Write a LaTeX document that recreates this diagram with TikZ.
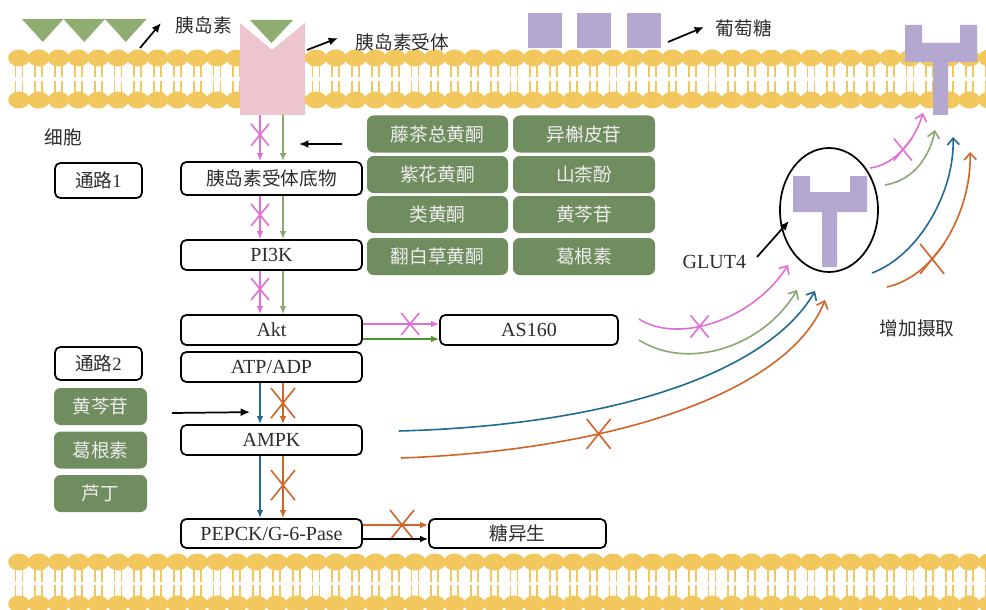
\documentclass[tikz,border=0pt]{standalone}
\usepackage{fontspec}
\setmainfont{Liberation Serif}
\newfontfamily\cjk{Noto Sans CJK SC}
\usetikzlibrary{arrows.meta,calc,shapes.geometric}

\definecolor{lipid}{RGB}{242,200,94}
\definecolor{recpink}{RGB}{236,197,206}
\definecolor{insgreen}{RGB}{143,173,112}
\definecolor{glupurple}{RGB}{181,168,208}
\definecolor{boxgreen}{RGB}{112,141,95}
\definecolor{pinkline}{RGB}{222,112,214}
\definecolor{sageline}{RGB}{139,166,113}
\definecolor{darkgreen}{RGB}{76,150,44}
\definecolor{blueline}{RGB}{31,107,145}
\definecolor{orangeline}{RGB}{210,100,40}
\definecolor{txt}{RGB}{45,45,45}

\tikzset{
  xcross/.pic={\draw[line width=1.2pt, arrows=-] (-9,-11) -- (9,11) (-9,11) -- (9,-11);},
  xcrossbig/.pic={\draw[line width=1.2pt, arrows=-] (-12,-15) -- (12,15) (-12,15) -- (12,-15);},
}

\begin{document}
\begin{tikzpicture}[x=0.75pt,y=-0.75pt,
  every node/.style={text=txt, font=\fontsize{14}{16}\selectfont},
  latin/.style={font=\fontsize{15}{17}\selectfont},
  pathbox/.style={draw=black, line width=1.3pt, rounded corners=4pt, fill=white,
    inner sep=0pt, minimum width=135.75pt, minimum height=22.5pt},
  gbox/.style={fill=boxgreen, rounded corners=5pt, inner sep=0pt, text=white!93!black,
    minimum height=27.75pt},
  flow/.style={line width=1.2pt, -{Latex[length=6pt,width=5pt]}},
  curvearrow/.style={line width=1.2pt, -{Straight Barb[length=5pt,width=9pt]}},
  pointer/.style={line width=1.3pt, black, -{Latex[length=7pt,width=6pt]}},
]
\useasboundingbox (0,0) rectangle (986,610);
\fill[white] (0,0) rectangle (986,610);

% ---------- lipid bilayers ----------
\foreach \yy in {58,562}{
  \foreach \i in {0,...,49}{
    \pgfmathsetmacro\xx{19+19.8*\i}
    \draw[lipid, line width=1.4pt]
      (\xx-3.5,\yy) -- (\xx-3.5,\yy+19.5) (\xx+3.5,\yy) -- (\xx+3.5,\yy+19.5)
      (\xx-3.5,\yy+23) -- (\xx-3.5,\yy+42) (\xx+3.5,\yy+23) -- (\xx+3.5,\yy+42);
    \fill[lipid] (\xx,\yy) ellipse [x radius=10.8, y radius=8.5];
    \fill[lipid] (\xx,\yy+42) ellipse [x radius=10.8, y radius=8.5];
  }
}

% ---------- insulin ----------
\foreach \a in {22,63.5,105}{
  \fill[insgreen] (\a,19) -- (\a+41.5,19) -- (\a+20.75,42) -- cycle;
}
\node[anchor=west] (lblIns) at (171,25) {\cjk 胰岛素};
\coordinate (insTail) at (140,48);
\coordinate (insTip) at (161,23);
\draw[pointer] (insTail) -- (insTip);

% ---------- insulin receptor ----------
\fill[recpink] (240,23) -- (272,50) -- (305,23) -- (305,115) -- (240,115) -- cycle;
\fill[insgreen] (250,20) -- (293,20) -- (271.5,43) -- cycle;
\coordinate (rec) at (271.5,115);
\node[anchor=west] (lblRec) at (351,42) {\cjk 胰岛素受体};
\coordinate (recTail) at (307,50);
\coordinate (recTip) at (338,38);
\draw[pointer] (recTail) -- (recTip);

% ---------- glucose ----------
\foreach \a in {528,577,627}{
  \fill[glupurple] (\a,13) rectangle ++(34,35);
}
\node[anchor=west] (lblGlc) at (711,28) {\cjk 葡萄糖};
\coordinate (glcTail) at (668,42);
\coordinate (glcTip) at (704,27);
\draw[pointer] (glcTail) -- (glcTip);

% ---------- GLUT4 in the membrane ----------
\fill[glupurple] (905,25) -- (922,25) -- (922,43) -- (960,43) -- (960,25) -- (977,25)
  -- (977,62) -- (948,62) -- (948,115) -- (933,115) -- (933,62) -- (905,62) -- cycle;
\coordinate (memGlut) at (940,115);

% ---------- cell labels ----------
\node (lblCell) at (63,137) {\cjk 细胞};
\node[pathbox, minimum width=65.25pt, minimum height=26.25pt] (path1) at (98.5,180.5) {{\cjk 通路}1};
\node[pathbox, minimum width=65.25pt, minimum height=24.75pt] (path2) at (98.5,363.5) {{\cjk 通路}2};
\node[gbox, minimum width=69.75pt] (lg1) at (100.5,406.5) {\cjk 黄芩苷};
\node[gbox, minimum width=69.75pt] (lg2) at (100.5,450) {\cjk 葛根素};
\node[gbox, minimum width=69.75pt] (lg3) at (100.5,493.5) {\cjk 芦丁};

% ---------- flavonoid grid ----------
\node[gbox, minimum width=105.75pt] (g11) at (437.5,134) {\cjk 藤茶总黄酮};
\node[gbox, minimum width=106.5pt]  (g12) at (584,134)   {\cjk 异槲皮苷};
\node[gbox, minimum width=105.75pt] (g21) at (437.5,174.5) {\cjk 紫花黄酮};
\node[gbox, minimum width=106.5pt]  (g22) at (584,174.5)   {\cjk 山柰酚};
\node[gbox, minimum width=105.75pt] (g31) at (437.5,214.5) {\cjk 类黄酮};
\node[gbox, minimum width=106.5pt]  (g32) at (584,214.5)   {\cjk 黄芩苷};
\node[gbox, minimum width=105.75pt] (g41) at (437.5,256.5) {\cjk 翻白草黄酮};
\node[gbox, minimum width=106.5pt]  (g42) at (584,256.5)   {\cjk 葛根素};

% ---------- pathway boxes ----------
\node[pathbox, minimum height=24.75pt] (irs) at (271.5,178.5) {\cjk 胰岛素受体底物};
\node[pathbox, latin] (pi3k) at (271.5,255) {PI3K};
\node[pathbox, latin] (akt)  at (271.5,330) {Akt};
\node[pathbox, latin] (atp)  at (271.5,367) {ATP/ADP};
\node[pathbox, latin] (ampk) at (271.5,440) {AMPK};
\node[pathbox, latin, minimum height=21.75pt] (pepck) at (271.5,533.5) {PEPCK/G-6-Pase};
\node[pathbox, latin, minimum width=133.5pt] (as160) at (529,330) {AS160};
\node[pathbox, minimum width=132.75pt, minimum height=21.75pt] (gng) at (517.5,533.5) {\cjk 糖异生};

% ---------- pathway 1 arrows ----------
\draw[flow, pinkline] ($(rec)+(-11.5,0)$) -- pic[pos=0.43, color=pinkline]{xcross} ($(irs.north)+(-11.5,0)$);
\draw[flow, sageline] ($(rec)+(11.5,0)$) -- ($(irs.north)+(11.5,0)$);
\draw[flow, pinkline] ($(irs.south)+(-11.5,0)$) -- pic[pos=0.44, color=pinkline]{xcross} ($(pi3k.north)+(-11.5,0)$);
\draw[flow, sageline] ($(irs.south)+(11.5,0)$) -- ($(pi3k.north)+(11.5,0)$);
\draw[flow, pinkline] ($(pi3k.south)+(-11.5,0)$) -- pic[pos=0.42, color=pinkline]{xcross} ($(akt.north)+(-11.5,0)$);
\draw[flow, sageline] ($(pi3k.south)+(11.5,0)$) -- ($(akt.north)+(11.5,0)$);
\draw[flow, pinkline] ($(akt.east)+(0,-6)$) -- pic[pos=0.62, color=pinkline]{xcross} ($(as160.west)+(0,-6)$);
\draw[flow, darkgreen] ($(akt.east)+(0,9)$) -- ($(as160.west)+(0,9)$);

% flavonoid grid acts on pathway 1
\coordinate (gridTail) at (342,144);
\coordinate (gridTip) at (299,144);
\draw[pointer] (gridTail) -- (gridTip);

% ---------- pathway 2 arrows ----------
\draw[flow, blueline] ($(atp.south)+(-11.5,0)$) -- ($(ampk.north)+(-11.5,0)$);
\draw[flow, orangeline] ($(atp.south)+(11.5,0)$) -- pic[pos=0.49, color=orangeline]{xcrossbig} ($(ampk.north)+(11.5,0)$);
\draw[flow, blueline] ($(ampk.south)+(-11.5,0)$) -- ($(pepck.north)+(-11.5,0)$);
\draw[flow, orangeline] ($(ampk.south)+(11.5,0)$) -- pic[pos=0.47, color=orangeline]{xcrossbig} ($(pepck.north)+(11.5,0)$);
\draw[flow, orangeline] ($(pepck.east)+(0,-8.5)$) -- pic[pos=0.6, color=orangeline]{xcrossbig} ($(gng.west)+(0,-8.5)$);
\draw[flow, black] ($(pepck.east)+(0,5.5)$) -- ($(gng.west)+(0,5.5)$);

\coordinate (lgTail) at (172,413);
\draw[pointer] (lgTail) -- ($(ampk.north)+(-21.5,-12)$);

% ---------- GLUT4 vesicle ----------
\node[draw=black, ellipse, line width=1.3pt, minimum width=73.5pt, minimum height=93pt, inner sep=0pt] (glut) at (829,210) {};
\fill[glupurple] (793,176) -- (810,176) -- (810,192) -- (850,192) -- (850,176) -- (867,176)
  -- (867,212) -- (837,212) -- (837,267) -- (822,267) -- (822,212) -- (793,212) -- cycle;
\node[anchor=west, latin] (lblGlut) at (678,262) {GLUT4};
\coordinate (glutTail) at (757,257);
\coordinate (glutTip) at (789,221);
\draw[pointer] (glutTail) -- (glutTip);

\node[anchor=west] (lblUp) at (875,328) {\cjk 增加摄取};

% ---------- curved arrows to the vesicle ----------
\coordinate (asPink) at ($(as160.east)+(20,-11)$);
\coordinate (asSage) at ($(as160.east)+(20,10)$);
\coordinate (ampkBlue) at ($(ampk.east)+(36,-9)$);
\coordinate (ampkOrange) at ($(ampk.east)+(38,18)$);
\coordinate (vPink) at (788,265);
\coordinate (vSage) at (797,290);
\coordinate (vBlue) at (815,291);
\coordinate (vOrange) at (825,300);

\draw[curvearrow, pinkline] (asPink) .. controls (680,345) and (755,318) .. pic[pos=0.4, color=pinkline]{xcross} (vPink);
\draw[curvearrow, sageline] (asSage) .. controls (690,372) and (765,345) .. (vSage);
\draw[curvearrow, blueline] (ampkBlue) .. controls (620,425) and (770,370) .. (vBlue);
\draw[curvearrow, orangeline] (ampkOrange) .. controls (620,450) and (790,390) .. pic[pos=0.33, color=orangeline]{xcrossbig} (vOrange);

% ---------- curved arrows from the vesicle to the membrane ----------
\coordinate (oPink) at (870,168);
\coordinate (oSage) at (885,185);
\coordinate (oBlue) at (872,273);
\coordinate (oOrange) at (887,287);
\coordinate (mPink) at (923,113);
\coordinate (mSage) at (935,130);
\coordinate (mBlue) at (953,137);
\coordinate (mOrange) at (970,152);

\draw[curvearrow, pinkline] (oPink) .. controls (895,165) and (915,140) .. pic[pos=0.5, color=pinkline]{xcross} (mPink);
\draw[curvearrow, sageline] (oSage) .. controls (915,180) and (930,155) .. (mSage);
\draw[curvearrow, blueline] (oBlue) .. controls (920,255) and (955,190) .. (mBlue);
\draw[curvearrow, orangeline] (oOrange) .. controls (940,275) and (972,205) .. pic[pos=0.33, color=orangeline]{xcrossbig} (mOrange);
\end{tikzpicture}
\end{document}
